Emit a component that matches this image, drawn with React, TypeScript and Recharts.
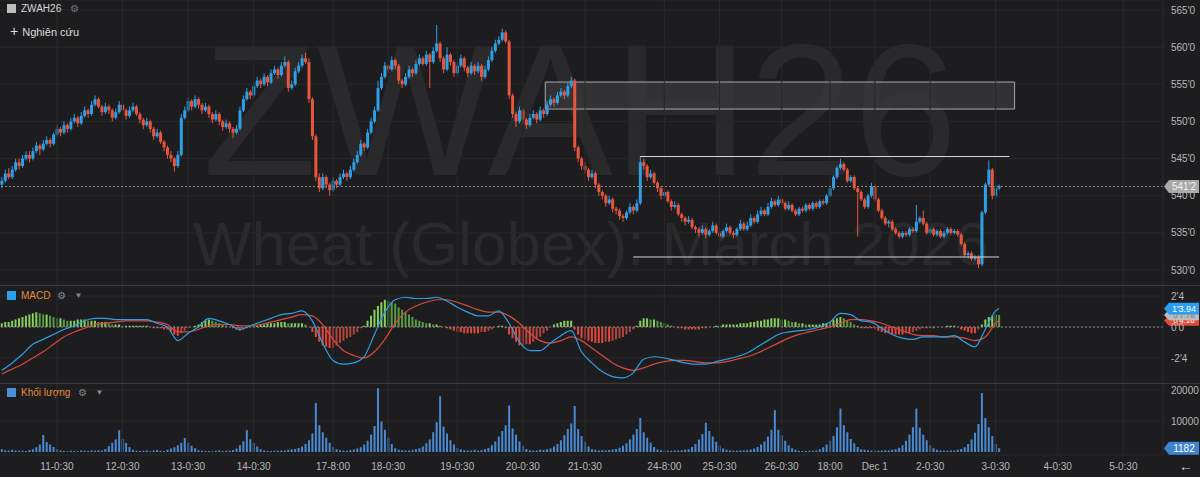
import React from "react";
import { ComposedChart, Bar, Line, XAxis, YAxis, CartesianGrid, ReferenceLine, ReferenceArea, Cell } from "recharts";

// hourly candles [open, high, low, close]
const ohlc: number[][] = [
  [541.5,542.5,541,542],[542,543.5,541.75,543],[543,543.75,542.25,542.5],[542.5,544,542.25,543.5],[543.5,545,543.25,544.5],
  [544.5,545,543.5,544],[544,545.5,543.75,545],[545,546,544.75,545.5],[545.5,546,544.5,545],[545,546.5,544.75,546],
  [546,547.25,545.75,546.75],[546.75,547,545.5,546.25],[546.25,547.5,546,547],[547,548,546.75,547.5],[547.5,547.75,546.5,547],
  [547,548.5,546.75,548.25],[548.25,549.5,548,549],[549,549.25,548,548.5],[548.5,550,548.25,549.5],[549.5,549.75,548.5,549],
  [549,550.5,548.75,550],[550,551,549.75,550.5],[550.5,550.75,549.25,549.75],[549.75,551.25,549.5,550.75],[550.75,552,550.5,551.5],
  [551.5,551.75,550.5,551],[551,552.75,550.75,552.25],[552.25,553.5,552,553],[553,553.25,551.75,552],[552,552.25,550.75,551.25],
  [551.25,552.5,551,552],[552,552.25,551,551.5],[551.5,551.75,550,550.5],[550.5,551.75,550.25,551.25],[551.25,552.75,551,552.25],
  [552.25,552.5,551.25,551.5],[551.5,551.75,550.25,550.75],[550.75,552,550.5,551.5],[551.5,552.5,551.25,552],[552,552.25,550.75,551],
  [551,551.25,549.75,550.25],[550.25,550.5,549,549.5],[549.5,550.5,549.25,550],[550,550.25,548.5,549],[549,549.25,547.5,548],
  [548,549,547.75,548.5],[548.5,548.75,547,547.25],[547.25,547.5,546,546.5],[546.5,546.75,545,545.5],[545.5,546,544.5,545],
  [545,545.25,543.25,544],[544,546,543.75,545.5],[545.5,551,545.25,550.5],[550.5,552,550.25,551.5],[551.5,553.25,551.25,552.75],
  [552.75,553,551.5,552],[552,553.5,551.75,553],[553,553.25,551.75,552.25],[552.25,552.5,551,551.5],[551.5,552.5,551.25,552],
  [552,552.25,550.5,551],[551,551.25,549.75,550.25],[550.25,551.5,550,551],[551,551.25,549.5,550],[550,550.25,548.75,549.25],
  [549.25,550.25,549,549.75],[549.75,550,548.5,549],[549,549.25,547.75,548.5],[548.5,549.5,548.25,549],[549,552,548.75,551.5],
  [551.5,553.5,551.25,553],[553,554.5,552.75,554],[554,554.25,553,553.5],[553.5,555.25,553.25,554.75],[554.75,556,554.5,555.5],
  [555.5,555.75,554.5,555],[555,556.5,554.75,556],[556,556.25,554.75,555.25],[555.25,557,555,556.5],[556.5,557.5,556.25,557],
  [557,557.25,555.75,556.25],[556.25,558,556,557.5],[557.5,558.75,557.25,558],[558,558.25,554,554.5],[554.5,555.5,554.25,555],
  [555,557.25,554.75,556.75],[556.75,558,556.5,557.5],[557.5,559,557.25,558.5],[558.5,559.25,557.75,558],[558,558.5,552.5,553],
  [553,553.25,547.5,548],[548,548.25,542,542.5],[542.5,543,540.5,541],[541,543,540.75,542.5],[542.5,542.75,541,541.5],
  [541.5,541.75,540,540.75],[540.75,542.5,540.5,542],[542,542.25,541,541.5],[541.5,543,541.25,542.5],[542.5,543.5,542.25,543],
  [543,543.25,542,542.5],[542.5,544,542.25,543.5],[543.5,545,543.25,544.5],[544.5,546,544.25,545.5],[545.5,547.5,545.25,547],
  [547,547.25,546,546.5],[546.5,549,546.25,548.5],[548.5,550.5,548.25,550],[550,552,549.75,551.5],[551.5,555.5,551.25,554.5],
  [554.5,556.5,554.25,556],[556,558,555.75,557.5],[557.5,557.75,556.5,557],[557,558.75,556.75,558.25],[558.25,558.5,557,557.5],
  [557.5,557.75,555,555.5],[555.5,555.75,554.5,555],[555,556.5,554.75,556],[556,557.5,555.75,557],[557,557.25,556,556.5],
  [556.5,558.25,556.25,557.75],[557.75,559,557.5,558.5],[558.5,558.75,557.5,557.75],[557.75,559.5,557.5,559],[559,559.25,554.5,558],
  [558,560,557.75,559.5],[559.5,563,559.25,560.5],[560.5,560.75,558,558.5],[558.5,558.75,556.5,557],[557,560,556.75,559],
  [559,559.25,557.5,558],[558,558.25,556,556.5],[556.5,558,556.25,557.5],[557.5,559,557.25,558.5],[558.5,558.75,556.75,557.25],
  [557.25,557.5,556,556.5],[556.5,558,556.25,557.5],[557.5,557.75,556.25,556.75],[556.75,558,556.5,557.5],[557.5,557.75,555.5,556],
  [556,557.5,555.75,557],[557,558.75,556.75,558.25],[558.25,560,558,559.5],[559.5,561,559.25,560.5],[560.5,561.5,560.25,561],
  [561,562.5,560.75,562],[562,562.25,560.5,560.75],[560.75,561,553,553.5],[553.5,553.75,550.5,551],[551,551.25,549.25,550],
  [550,552,549.75,551.5],[551.5,551.75,549.75,550.25],[550.25,550.5,549,549.5],[549.5,551,549.25,550.5],[550.5,551.5,550.25,551],
  [551,551.25,549.75,550.25],[550.25,552,550,551.5],[551.5,551.75,550.5,551],[551,552.75,550.75,552.25],[552.25,553.5,552,553],
  [553,553.25,552,552.5],[552.5,554,552.25,553.5],[553.5,554.5,553.25,554],[554,554.25,553,553.5],[553.5,555.25,553.25,554.75],
  [554.75,556,554.5,555.5],[555.5,555.75,546,546.5],[546.5,546.75,544.5,545],[545,545.25,543.5,544],[544,544.5,543,543.5],
  [543.5,543.75,542,542.5],[542.5,543.5,542.25,543],[543,543.25,541,541.5],[541.5,541.75,540,540.5],[540.5,540.75,539.5,540],
  [540,540.25,538.5,539],[539,540,538.75,539.5],[539.5,539.75,537.75,538.25],[538.25,538.5,537.5,538],[538,538.25,536.75,537.25],
  [537.25,537.5,536.5,537],[537,538,536.75,537.75],[537.75,539,537.5,538.5],[538.5,538.75,537.5,538],[538,539.5,537.75,539],
  [539,545.25,538.75,544.5],[544.5,545,543.5,544],[544,544.25,542,542.5],[542.5,543.5,542.25,543],[543,543.25,541.5,541.75],
  [541.75,542,540.5,541],[541,541.25,539.5,540],[540,541,539.75,540.5],[540.5,540.75,539,539.25],[539.25,539.5,538,538.5],
  [538.5,539.25,538.25,538.75],[538.75,539,537.25,537.5],[537.5,537.75,536.5,537],[537,537.25,536,536.5],[536.5,537.25,536.25,536.75],
  [536.75,537,535.5,535.75],[535.75,536,535,535.5],[535.5,535.75,534.5,535],[535,536,534.75,535.5],[535.5,535.75,534.25,534.75],
  [534.75,535.5,534.5,535.25],[535.25,536.5,535,536],[536,536.25,534.75,535],[535,535.25,534,534.5],[534.5,535.5,534.25,535.25],
  [535.25,536.25,535,535.75],[535.75,536,534.75,535],[535,535.25,534.25,534.75],[534.75,535.75,534.5,535.5],[535.5,536.75,535.25,536.25],
  [536.25,536.5,535.25,535.5],[535.5,536.5,535.25,536],[536,537.5,535.75,537],[537,537.25,536.25,536.5],[536.5,538,536.25,537.5],
  [537.5,538.5,537.25,538],[538,538.25,537.25,537.5],[537.5,539,537.25,538.5],[538.5,539.75,538.25,539.25],[539.25,539.5,538.5,538.75],
  [538.75,540,538.5,539.5],[539.5,539.75,538.75,539],[539,539.25,538,538.25],[538.25,539.25,538,538.75],[538.75,539,537.75,538],
  [538,538.25,537.25,537.5],[537.5,538.5,537.25,538.25],[538.25,538.5,537.75,538],[538,539,537.75,538.75],[538.75,539,538,538.25],
  [538.25,539.25,538,539],[539,539.25,538.25,538.5],[538.5,539.5,538.25,539.25],[539.25,539.5,538.75,539],[539,540.25,538.75,540],
  [540,541.25,539.75,541],[541,542.75,540.75,542.5],[542.5,544,542.25,543.75],[543.75,545,543.5,544.25],[544.25,544.5,543.25,543.5],
  [543.5,543.75,541.75,542],[542,542.75,541.75,542.5],[542.5,542.75,540.75,541],[541,541.25,534.5,540.5],[540.5,540.75,539.25,539.5],
  [539.5,539.75,538.25,538.5],[538.5,540.25,538.25,540],[540,541.75,539.75,541.25],[541.25,541.5,539.25,539.5],[539.5,539.75,537.75,538],
  [538,538.25,536.75,537],[537,537.25,536,536.25],[536.25,536.75,535.75,536.5],[536.5,536.75,535.25,535.5],[535.5,535.75,534.75,535],
  [535,535.25,534.25,534.5],[534.5,535.25,534.25,535],[535,535.25,534.5,534.75],[534.75,535.75,534.5,535.5],[535.5,535.75,535,535.25],
  [535.25,538.75,535,536.5],[536.5,537.25,536.25,537],[537,538,536,536.25],[536.25,536.5,534.75,535],[535,535.75,534.75,535.5],
  [535.5,535.75,534.5,534.75],[534.75,535.5,534.5,535.25],[535.25,535.5,534.25,534.5],[534.5,535.25,534.25,535],[535,535.75,534.75,535.5],
  [535.5,535.75,534.75,535],[535,535.5,534.75,535.25],[535.25,535.5,534.5,534.75],[534.75,535,533.25,533.5],[533.5,533.75,531.75,532],
  [532,532.5,531.5,532.25],[532.25,532.5,531.25,531.5],[531.5,532,531.25,531.75],[531.75,532,530.25,530.75],[530.75,538,530.5,537.75],
  [537.75,541.75,537.5,541.5],[541.5,544.75,541.25,543.5],[543.5,543.75,539.5,540],[540,541.5,539.75,541],[541,541.5,540.75,541.25],
];

const volumes = [
  900, 600, 450, 700, 500, 380, 420, 300, 650, 900,
  1500, 2400, 5500, 3200, 2400, 1600, 900, 500, 350, 280,
  400, 320, 260, 450, 380, 300, 520, 420, 600, 480,
  1000, 1900, 3000, 4000, 7000, 4200, 2900, 1600, 700, 400,
  300, 380, 450, 260, 520, 610, 400, 330, 700, 1100,
  1500, 2200, 3000, 4500, 3000, 2000, 1200, 600, 420, 300,
  350, 280, 400, 520, 300, 420, 380, 650, 1100, 2200,
  3400, 7000, 4100, 2900, 1800, 900, 500, 360, 300, 420,
  380, 520, 460, 700, 880, 1000, 1300, 1800, 2600, 3800,
  6000, 15800, 8600, 6400, 4600, 3000, 1600, 900, 600, 480,
  400, 620, 800, 1100, 1500, 2400, 3600, 5600, 8400, 20600,
  9800, 7200, 4600, 2600, 1200, 700, 600, 450, 520, 640,
  900, 1200, 1800, 2800, 4000, 6400, 9600, 18000, 8200, 6000,
  3800, 2400, 1300, 800, 600, 450, 520, 700, 500, 640,
  900, 1300, 2200, 3400, 5000, 6800, 8600, 15000, 7600, 5600,
  3400, 2000, 1000, 600, 480, 520, 700, 650, 900, 1100,
  1800, 2600, 3800, 5400, 7400, 9200, 14800, 7400, 5200, 3200,
  1800, 900, 700, 520, 600, 480, 650, 800, 1000, 1400,
  2000, 2800, 4000, 5600, 7400, 11000, 6400, 4600, 3000, 1600,
  800, 600, 500, 420, 380, 520, 450, 600, 750, 900,
  1600, 2600, 4000, 5800, 9400, 6800, 5000, 3300, 2000, 1100,
  700, 500, 420, 380, 450, 520, 600, 800, 1100, 1600,
  2400, 3400, 5000, 7200, 13500, 7200, 5400, 3600, 2200, 1200,
  700, 400, 350, 300, 420, 380, 500, 900, 1500, 2400,
  3600, 5200, 8000, 14000, 8600, 6400, 4200, 2800, 1600, 900,
  700, 600, 500, 450, 380, 520, 600, 480, 700, 900,
  1400, 2200, 3600, 5600, 8000, 14000, 7800, 5600, 3800, 2200,
  1200, 700, 500, 420, 380, 460, 520, 700, 1000, 1500,
  2600, 4000, 6200, 9000, 19000, 11000, 8000, 5200, 2600, 1182,
];

// MACD and signal read every 3rd candle; last entry is the final candle
const MACD_STEP = 3;
const macdLine = [
  -3.5, -2.9, -2.2, -1.4, -1.0, -0.6, -0.2, 0.1, 0.5, 0.7,
  0.7, 0.6, 0.6, 0.6, 0.6, 0.3, 0.0, -1.1, -0.5, 0.0,
  0.7, 0.5, 0.2, -0.2, 0.1, 0.4, 0.7, 1.0, 1.1, 1.3,
  0.5, -1.3, -2.7, -3.0, -2.9, -2.4, -0.6, 1.2, 2.2, 2.4,
  2.3, 2.3, 2.4, 2.1, 1.6, 1.2, 0.9, 0.9, 1.3, 0.3,
  -1.2, -1.9, -1.9, -1.3, -0.7, -0.3, -2.0, -2.9, -3.6, -4.0,
  -4.1, -3.7, -2.6, -2.4, -2.5, -2.7, -2.9, -3.0, -3.0, -2.8,
  -2.6, -2.4, -2.1, -1.6, -1.1, -0.6, -0.4, -0.3, -0.2, 0.0,
  0.4, 1.1, 1.0, 0.5, 0.4, -0.1, -0.6, -0.9, -1.0, -0.8,
  -0.8, -0.8, -0.7, -1.2, -1.6, -0.2, 1.3, 1.49,
];
const signalLine = [
  -3.8, -3.4, -3.0, -2.5, -2.0, -1.4, -0.8, -0.4, -0.1, 0.2,
  0.3, 0.4, 0.5, 0.5, 0.5, 0.4, 0.2, -0.4, -0.4, -0.2,
  0.1, 0.2, 0.2, 0.1, 0.1, 0.2, 0.4, 0.6, 0.8, 1.0,
  0.9, 0.2, -1.0, -1.9, -2.3, -2.5, -2.0, -1.0, 0.3, 1.2,
  1.7, 2.0, 2.2, 2.2, 2.0, 1.7, 1.4, 1.2, 1.2, 0.9,
  0.3, -0.5, -1.1, -1.3, -1.1, -0.8, -1.1, -1.7, -2.3, -2.9,
  -3.3, -3.5, -3.3, -3.0, -2.8, -2.7, -2.7, -2.8, -2.9, -2.9,
  -2.8, -2.6, -2.4, -2.1, -1.7, -1.3, -0.9, -0.6, -0.4, -0.2,
  0.0, 0.3, 0.6, 0.6, 0.5, 0.3, 0.0, -0.3, -0.6, -0.7,
  -0.7, -0.8, -0.8, -0.9, -1.1, -0.8, 0.3, 0.52,
];
const histogram = [
  0.3, 0.4, 0.4, 0.5, 0.6, 0.7, 0.8, 0.9, 1.0, 1.1, 1.2, 1.1, 1.0, 1.0, 0.9,
  0.8, 0.7, 0.7, 0.6, 0.5, 0.5, 0.5, 0.6, 0.6, 0.6, 0.5, 0.5, 0.5, 0.4, 0.4,
  0.4, 0.3, 0.2, 0.2, 0.2, 0.1, 0.1, 0.1, 0.1, 0.1, 0.1, 0.1, 0.1, 0.0, -0.1,
  -0.1, -0.1, -0.2, -0.2, -0.4, -0.6, -0.7, -0.5, -0.3, -0.1, 0.0, 0.1, 0.2, 0.4, 0.5,
  0.6, 0.5, 0.4, 0.3, 0.2, 0.1, 0.0, -0.1, -0.2, -0.3, -0.2, -0.1, 0.0, 0.1, 0.1,
  0.2, 0.2, 0.3, 0.3, 0.3, 0.4, 0.4, 0.4, 0.3, 0.3, 0.3, 0.3, 0.3, 0.2, 0.0,
  -0.4, -0.8, -1.2, -1.5, -1.6, -1.7, -1.7, -1.5, -1.3, -1.1, -0.9, -0.8, -0.6, -0.4, -0.1,
  0.1, 0.5, 0.9, 1.4, 1.7, 2.0, 2.2, 2.1, 2.0, 1.9, 1.6, 1.4, 1.2, 1.0, 0.8,
  0.6, 0.5, 0.4, 0.3, 0.3, 0.2, 0.2, 0.1, 0.0, -0.1, -0.2, -0.3, -0.4, -0.4, -0.5,
  -0.5, -0.5, -0.5, -0.5, -0.4, -0.4, -0.3, -0.2, 0.0, 0.1, 0.1, -0.1, -0.6, -0.9, -1.2,
  -1.5, -1.5, -1.4, -1.4, -1.2, -1.0, -0.8, -0.5, -0.3, 0.0, 0.2, 0.3, 0.4, 0.5, 0.5,
  0.5, -0.2, -0.6, -0.9, -1.0, -1.1, -1.2, -1.3, -1.3, -1.3, -1.2, -1.2, -1.1, -1.0, -0.9,
  -0.8, -0.6, -0.4, -0.2, 0.1, 0.5, 0.7, 0.7, 0.6, 0.6, 0.5, 0.4, 0.3, 0.2, 0.1,
  0.0, -0.1, -0.1, -0.2, -0.2, -0.2, -0.2, -0.2, -0.1, -0.1, 0.0, 0.0, 0.1, 0.1, 0.2,
  0.2, 0.2, 0.2, 0.2, 0.3, 0.3, 0.3, 0.4, 0.4, 0.5, 0.5, 0.6, 0.6, 0.7, 0.7,
  0.7, 0.6, 0.6, 0.5, 0.4, 0.4, 0.3, 0.3, 0.2, 0.2, 0.2, 0.2, 0.2, 0.3, 0.3,
  0.4, 0.6, 0.7, 0.8, 0.7, 0.5, 0.4, 0.2, 0.1, -0.1, -0.1, -0.1, -0.1, -0.2, -0.3,
  -0.4, -0.5, -0.5, -0.6, -0.6, -0.6, -0.6, -0.5, -0.5, -0.4, -0.3, -0.2, -0.1, -0.1, -0.1,
  -0.1, 0.0, 0.0, 0.0, 0.1, 0.1, 0.1, 0.0, -0.2, -0.3, -0.4, -0.5, -0.5, -0.2, 0.2,
  0.6, 0.8, 0.9, 1.0, 0.97,
];

const tickIdx = [16, 35, 54, 73, 96, 112, 132, 151, 169, 192, 208, 226, 240, 253, 269, 288, 306, 325];
const tickLabels = [
  "11-0:30", "12-0:30", "13-0:30", "14-0:30", "17-8:00", "18-0:30", "19-0:30", "20-0:30", "21-0:30",
  "24-8:00", "25-0:30", "26-0:30", "18:00", "Dec 1", "2-0:30", "3-0:30", "4-0:30", "5-0:30",
];
const priceTicks = [530, 535, 540, 545, 550, 555, 560, 565];
const macdTicks = [-2.5, 0, 2.5];
const macdTickLabels = ["-2'4", "0'0", "2'4"];
const volumeTicks = [10000, 20000];

const lastPrice = 541.25;
const lastPriceLabel = "541'2";
const lastMacdLabel = "1'3.94";
const lastHistLabel = "0'7.78";
const lastSignalLabel = "0'4.16";
// drawings: [fromIdx, toIdx, price(s)]
const zoneBox = [158, 293, 551.67, 555.31];
const resistance = [185, 292, 545.28];
const support = [183, 289, 531.75];

const SLOTS = 337;
const W = 1200;
const AXIS_W = 37;
const BG = "#1d1d1f";
const GRID = "#29292b";
const TXT = "#b8b8b8";
const UP = "#2f9fe6";
const DOWN = "#e8563e";
const ORANGE = "#e38b3c";
const FONT = "'Liberation Sans', Arial, sans-serif";

const last = ohlc.length - 1;
const rows = Array.from({ length: SLOTS }, (_, i) => {
  const row: any = { i };
  const c = ohlc[i];
  if (c) {
    row.o = c[0];
    row.h = c[1];
    row.l = c[2];
    row.c = c[3];
    row.range = [c[2], c[1]];
    row.vol = volumes[i];
    row.hist = histogram[i];
  }
  if (i <= last) {
    if (i % MACD_STEP === 0 && i / MACD_STEP < macdLine.length - 1) {
      row.macd = macdLine[i / MACD_STEP];
      row.signal = signalLine[i / MACD_STEP];
    }
    if (i === last) {
      row.macd = macdLine[macdLine.length - 1];
      row.signal = signalLine[signalLine.length - 1];
    }
  }
  return row;
});

function Candle(props: any) {
  const { x, y, width, height, payload } = props;
  if (!payload || payload.o == null) return null;
  const top = Math.min(y, y + height);
  const h = Math.abs(height);
  const span = payload.h - payload.l;
  const k = span > 0 ? h / span : 0;
  const col = payload.c >= payload.o ? UP : DOWN;
  const cx = x + width / 2;
  const bTop = top + (payload.h - Math.max(payload.o, payload.c)) * k;
  const bH = Math.max(1, Math.abs(payload.c - payload.o) * k);
  return (
    <g>
      <line x1={cx} x2={cx} y1={top} y2={top + h} stroke={col} strokeWidth={1} />
      <rect x={x} y={bTop} width={width} height={bH} fill={col} />
    </g>
  );
}

function Tag(props: any) {
  const { viewBox, text, bg, fg, size = 10 } = props;
  const x0 = viewBox.x + viewBox.width + 1;
  const yc = viewBox.y;
  const half = size * 0.6 + 0.5;
  return (
    <g>
      <path d={`M${x0} ${yc} L${x0 + 5} ${yc - half} H${x0 + 35} V${yc + half} H${x0 + 5} Z`} fill={bg} />
      <text x={x0 + 20} y={yc + size * 0.35} textAnchor="middle" fontSize={size} fill={fg} fontFamily={FONT}>
        {text}
      </text>
    </g>
  );
}

const histColor = (v: number | undefined, prev: number | undefined) => {
  if (v == null) return "transparent";
  const p = prev ?? 0;
  if (v >= 0) return v >= p ? "#86cf5a" : "#5a9a42";
  return v <= p ? "#e5483b" : "#b2443b";
};

const vGrid = tickIdx.map((t) => <ReferenceLine key={"g" + t} x={t} stroke={GRID} />);

const axisTick = { fontSize: 10, fill: TXT, fontFamily: FONT };

export default function App() {
  return (
    <div style={{ position: "absolute", left: 0, top: 0, width: W, height: 477, background: BG, overflow: "hidden", fontFamily: FONT }}>
      <svg width={W} height={477} style={{ position: "absolute", left: 0, top: 0 }}>
        <text x={580} y={175} textAnchor="middle" fontSize={188} fill="#2a2a2c" fontFamily={FONT}>
          ZWAH26
        </text>
        <text x={591} y={265} textAnchor="middle" fontSize={62} fill="#2a2a2c" fontFamily={FONT}>
          Wheat (Globex): March 2026
        </text>
      </svg>

      <div style={{ position: "absolute", left: 0, top: 0 }}>
        <ComposedChart width={W} height={285} data={rows} margin={{ top: 0, right: 0, left: 0, bottom: 0 }} barCategoryGap="10%">
          <CartesianGrid vertical={false} stroke={GRID} />
          <XAxis dataKey="i" type="category" hide />
          <YAxis
            orientation="right"
            width={AXIS_W}
            domain={[527.98, 566.35]}
            ticks={priceTicks}
            interval={0}
            allowDataOverflow
            tickLine={false}
            axisLine={{ stroke: "#2c2c2e" }}
            tick={axisTick}
            tickFormatter={(v: number) => `${v}'0`}
          />
          {vGrid}
          <ReferenceArea
            x1={zoneBox[0]}
            x2={zoneBox[1]}
            y1={zoneBox[2]}
            y2={zoneBox[3]}
            fill="#3a3a3c"
            fillOpacity={0.75}
            stroke="#c9c9c9"
            strokeOpacity={0.8}
            strokeWidth={1}
          />
          <ReferenceLine segment={[{ x: resistance[0], y: resistance[2] }, { x: resistance[1], y: resistance[2] }]} stroke="#d6d6d6" />
          <ReferenceLine segment={[{ x: support[0], y: support[2] }, { x: support[1], y: support[2] }]} stroke="#d6d6d6" />
          <Bar dataKey="range" shape={<Candle />} isAnimationActive={false} />
          <ReferenceLine
            y={lastPrice}
            stroke="#8c8c8c"
            strokeDasharray="2 2"
            label={<Tag text={lastPriceLabel} bg="#a8a8a8" fg="#f2f2f2" />}
          />
        </ComposedChart>
      </div>

      <div style={{ position: "absolute", left: 0, top: 285 }}>
        <ComposedChart width={W} height={98} data={rows} margin={{ top: 0, right: 0, left: 0, bottom: 0 }} barCategoryGap="22%">
          <CartesianGrid vertical={false} stroke={GRID} />
          <XAxis dataKey="i" type="category" hide />
          <YAxis
            orientation="right"
            width={AXIS_W}
            domain={[-4.52, 3.39]}
            ticks={macdTicks}
            interval={0}
            allowDataOverflow
            tickLine={false}
            axisLine={{ stroke: "#2c2c2e" }}
            tick={axisTick}
            tickFormatter={(v: number) => macdTickLabels[macdTicks.indexOf(v)] ?? ""}
          />
          {vGrid}
          <Bar dataKey="hist" isAnimationActive={false}>
            {rows.map((r, i) => (
              <Cell key={i} fill={histColor(r.hist, i > 0 ? rows[i - 1].hist : undefined)} />
            ))}
          </Bar>
          <ReferenceLine y={0} stroke="#8c8c8c" strokeDasharray="2 2" />
          <Line type="monotone" dataKey="signal" stroke="#d9493d" strokeWidth={1.2} dot={false} connectNulls isAnimationActive={false} />
          <Line type="monotone" dataKey="macd" stroke="#2f9fe6" strokeWidth={1.2} dot={false} connectNulls isAnimationActive={false} />
          <ReferenceLine
            y={signalLine[signalLine.length - 1]}
            stroke="none"
            label={<Tag text={lastSignalLabel} bg="#e04a3a" fg="#ffffff" size={8} />}
          />
          <ReferenceLine
            y={histogram[histogram.length - 1]}
            stroke="none"
            label={<Tag text={lastHistLabel} bg="#bcbcbc" fg="#7a7a7a" size={8} />}
          />
          <ReferenceLine
            y={macdLine[macdLine.length - 1]}
            stroke="none"
            label={<Tag text={lastMacdLabel} bg="#2a9ef0" fg="#ffffff" size={9} />}
          />
        </ComposedChart>
      </div>

      <div style={{ position: "absolute", left: 0, top: 383 }}>
        <ComposedChart width={W} height={94} data={rows} margin={{ top: 0, right: 0, left: 0, bottom: 0 }} barCategoryGap="24%">
          <CartesianGrid vertical={false} stroke={GRID} />
          <XAxis
            dataKey="i"
            type="category"
            height={22}
            ticks={tickIdx}
            interval={0}
            tickLine={false}
            axisLine={false}
            tick={axisTick}
            tickFormatter={(v: number) => tickLabels[tickIdx.indexOf(v)] ?? ""}
          />
          <YAxis
            orientation="right"
            width={AXIS_W}
            domain={[-968, 22258]}
            ticks={volumeTicks}
            interval={0}
            allowDataOverflow
            tickLine={false}
            axisLine={{ stroke: "#2c2c2e" }}
            tick={axisTick}
          />
          {vGrid}
          <Bar dataKey="vol" fill="#4a8ad2" isAnimationActive={false} />
          <ReferenceLine
            y={volumes[volumes.length - 1]}
            stroke="none"
            label={<Tag text={String(volumes[volumes.length - 1])} bg="#3f84cf" fg="#ffffff" />}
          />
        </ComposedChart>
      </div>

      <div style={{ position: "absolute", left: 0, top: 285, width: W, height: 1, background: "#3a3a3c" }} />
      <div style={{ position: "absolute", left: 0, top: 383, width: W, height: 1, background: "#3a3a3c" }} />

      <div style={{ position: "absolute", left: 7, top: 3, display: "flex", alignItems: "center", fontSize: 10, color: "#d6d6d6" }}>
        <span style={{ width: 9, height: 9, background: "#bdbdbd", display: "inline-block", marginRight: 5 }} />
        <span>ZWAH26</span>
        <span style={{ color: "#777", marginLeft: 9, fontSize: 10 }}>⚙</span>
      </div>
      <div style={{ position: "absolute", left: 10, top: 23, fontSize: 11, color: "#dedede" }}>
        <span style={{ fontSize: 14, marginRight: 4 }}>+</span>Nghiên cứu
      </div>

      <div style={{ position: "absolute", left: 7, top: 290, display: "flex", alignItems: "center", fontSize: 10, color: ORANGE }}>
        <span style={{ width: 9, height: 9, background: "#2aa0f0", display: "inline-block", marginRight: 5 }} />
        <span>MACD</span>
        <span style={{ color: "#888", marginLeft: 7 }}>⚙</span>
        <span style={{ color: "#888", marginLeft: 8, fontSize: 8 }}>▼</span>
      </div>
      <div style={{ position: "absolute", left: 7, top: 387, display: "flex", alignItems: "center", fontSize: 10, color: ORANGE }}>
        <span style={{ width: 9, height: 9, background: "#4a8fd8", display: "inline-block", marginRight: 5 }} />
        <span>Khối lượng</span>
        <span style={{ color: "#888", marginLeft: 8 }}>⚙</span>
        <span style={{ color: "#888", marginLeft: 8, fontSize: 8 }}>▼</span>
      </div>
      <div style={{ position: "absolute", left: 1179, top: 458, fontSize: 14, color: "#cfcfcf" }}>←</div>
    </div>
  );
}
